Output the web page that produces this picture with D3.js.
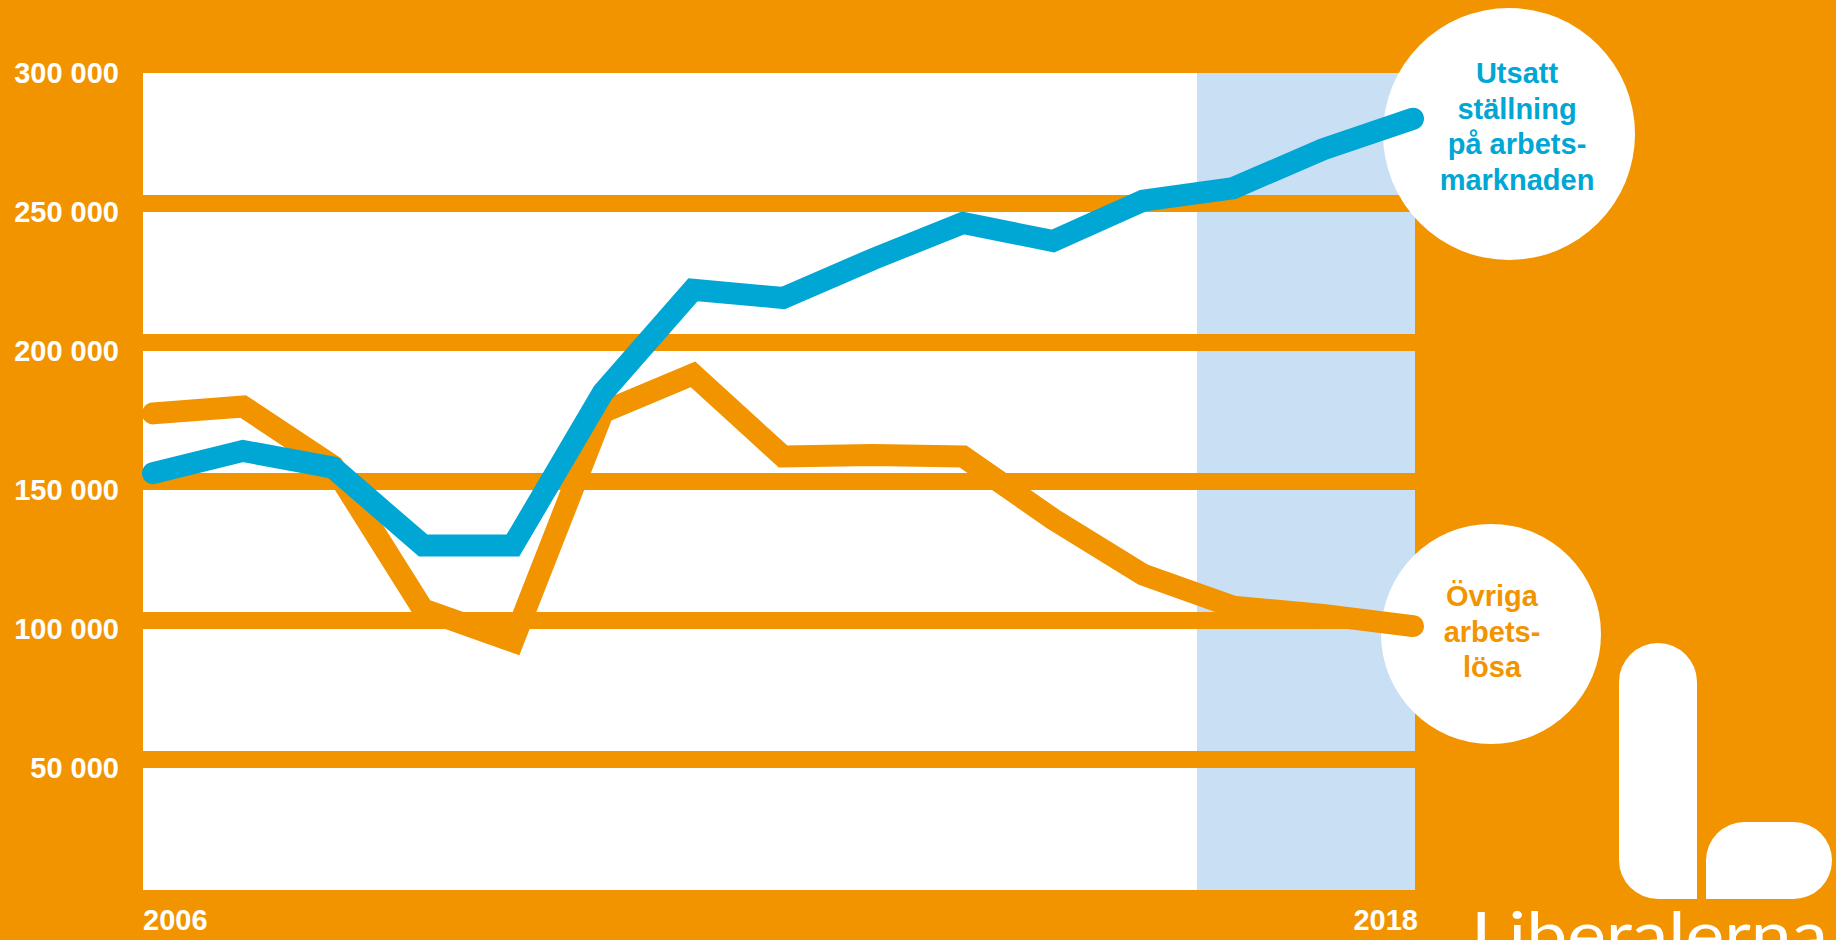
<!DOCTYPE html>
<html>
<head>
<meta charset="utf-8">
<script src="https://cdn.jsdelivr.net/npm/d3@7"></script>
<style>
  body { margin: 0; background: #f29400; }
  svg { display: block; }
  text { font-family: "Liberation Sans", Arial, sans-serif; font-weight: bold; }
</style>
</head>
<body>
<div id="chart"></div>
<script>
// Size of the picture
const width = 1836;
const height = 940;

// Data (15 points between 2006 and 2018)
const utsatt = [153000, 161000, 155000, 127000, 127000, 182000, 219000, 216000,
                230000, 243000, 236500, 251000, 255500, 269500, 280500];
const ovriga = [174500, 177000, 155500, 104000, 92500, 175000, 188500, 159000,
                159500, 159000, 136500, 116500, 105000, 102000, 98000];
const yTicks = [50000, 100000, 150000, 200000, 250000, 300000];
const xTickLabels = ["2006", "2018"];
const utsattLabel = ["Utsatt", "ställning", "på arbets-", "marknaden"];
const ovrigaLabel = ["Övriga", "arbets-", "lösa"];
const forecastStart = 11.6; // shaded part starts here (point index)

const orange = "#f29400";
const blue = "#00a6d4";
const lightBlue = "#c9dff4";

const svg = d3.select("#chart")
    .append("svg")
    .attr("width", width)
    .attr("height", height);

// plot frame
const plotLeft = 143, plotRight = 1415;

const x = d3.scaleLinear()
    .domain([0, utsatt.length - 1])
    .range([153, 1413]);

const y = d3.scaleLinear()
    .domain([0, 300000])
    .range([898.5, 64.5]);

// white plot area
svg.append("rect")
    .attr("x", plotLeft)
    .attr("y", y(300000))
    .attr("width", plotRight - plotLeft)
    .attr("height", y(0) - y(300000))
    .attr("fill", "#fff");

// shaded forecast area
svg.append("rect")
    .attr("x", x(forecastStart))
    .attr("y", y(300000))
    .attr("width", plotRight - x(forecastStart))
    .attr("height", y(0) - y(300000))
    .attr("fill", lightBlue);

// thick orange grid bands (also at 0 and 300 000, which make the frame)
svg.append("g")
    .selectAll("line")
    .data([0].concat(yTicks))
    .join("line")
    .attr("x1", plotLeft)
    .attr("x2", plotRight)
    .attr("y1", d => y(d))
    .attr("y2", d => y(d))
    .attr("stroke", orange)
    .attr("stroke-width", 17);

// y labels
svg.append("g")
    .selectAll("text")
    .data(yTicks)
    .join("text")
    .attr("x", 119)
    .attr("y", d => y(d) + 18)
    .attr("text-anchor", "end")
    .attr("fill", "#fff")
    .attr("font-size", 29)
    .text(d => d3.format(",")(d).replace(/,/g, " "));

// x labels, only first and last year
svg.append("text")
    .attr("x", plotLeft)
    .attr("y", 930)
    .attr("fill", "#fff")
    .attr("font-size", 29)
    .text(xTickLabels[0]);

svg.append("text")
    .attr("x", plotRight + 3)
    .attr("y", 930)
    .attr("text-anchor", "end")
    .attr("fill", "#fff")
    .attr("font-size", 29)
    .text(xTickLabels[1]);

// label bubbles (drawn under the lines, the line ends poke into them)
function bubble(cx, cy, r, lines, color, tx, firstBaseline) {
    svg.append("circle")
        .attr("cx", cx)
        .attr("cy", cy)
        .attr("r", r)
        .attr("fill", "#fff");
    svg.append("g")
        .selectAll("text")
        .data(lines)
        .join("text")
        .attr("x", tx)
        .attr("y", (d, i) => firstBaseline + i * 35.7)
        .attr("text-anchor", "middle")
        .attr("fill", color)
        .attr("font-size", 29)
        .text(d => d);
}

bubble(1509, 134, 126, utsattLabel, blue, 1517, 83);
bubble(1491, 634, 110, ovrigaLabel, orange, 1492, 606);

const line = d3.line()
    .x((d, i) => x(i))
    .y(d => y(d));

svg.append("path")
    .datum(ovriga)
    .attr("d", line)
    .attr("fill", "none")
    .attr("stroke", orange)
    .attr("stroke-width", 22)
    .attr("stroke-linejoin", "miter")
    .attr("stroke-linecap", "round");

svg.append("path")
    .datum(utsatt)
    .attr("d", line)
    .attr("fill", "none")
    .attr("stroke", blue)
    .attr("stroke-width", 22)
    .attr("stroke-linejoin", "miter")
    .attr("stroke-linecap", "round");

// Liberalerna logo
const logo = svg.append("g").attr("fill", "#fff");
logo.append("path")
    .attr("d", "M1619,682 A39,39 0 0 1 1697,682 L1697,899 L1658,899 A39,39 0 0 1 1619,860 Z");
logo.append("path")
    .attr("d", "M1706,899 L1706,860.5 A38.5,38.5 0 0 1 1744.5,822 L1793.5,822 A38.5,38.5 0 0 1 1832,860.5 A38.5,38.5 0 0 1 1793.5,899 Z");
logo.append("text")
    .attr("x", 1471)
    .attr("y", 957)
    .attr("font-size", 62)
    .style("font-family", "Lato, 'Open Sans', sans-serif")
    .style("font-weight", 400)
    .attr("textLength", 357)
    .attr("lengthAdjust", "spacingAndGlyphs")
    .text("Liberalerna");
</script>
</body>
</html>
